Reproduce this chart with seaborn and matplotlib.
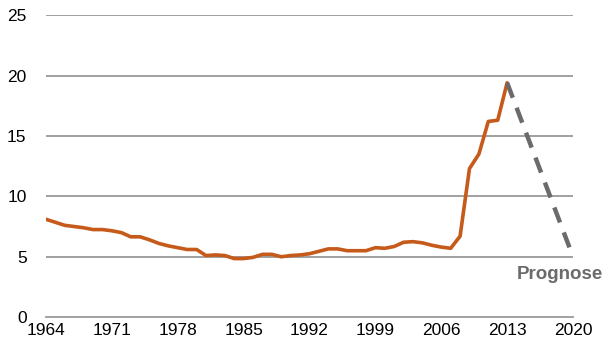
import matplotlib
matplotlib.use("Agg")
import matplotlib.pyplot as plt
import seaborn as sns
import pandas as pd

# values
years = list(range(1964, 2014))
values = [8.1, 7.85, 7.6, 7.5, 7.4, 7.25, 7.25, 7.15, 7.0, 6.65,
          6.65, 6.4, 6.1, 5.9, 5.75, 5.6, 5.6, 5.1, 5.15, 5.1,
          4.85, 4.85, 4.95, 5.2, 5.2, 5.0, 5.1, 5.15, 5.25, 5.45,
          5.65, 5.65, 5.5, 5.5, 5.5, 5.75, 5.7, 5.85, 6.2, 6.25,
          6.15, 5.95, 5.8, 5.7, 6.7, 12.3, 13.5, 16.2, 16.3, 19.4]
forecast_years = [2013, 2020]
forecast_values = [19.4, 5.0]
xticks = [1964, 1971, 1978, 1985, 1992, 1999, 2006, 2013, 2020]
yticks = [0, 5, 10, 15, 20, 25]

df = pd.DataFrame({"year": years, "value": values})
fc = pd.DataFrame({"year": forecast_years, "value": forecast_values})

sns.set_style("white")
plt.rcParams["font.family"] = ["Liberation Sans", "DejaVu Sans"]

fig = plt.figure(figsize=(6.16, 3.6), dpi=100)
ax = fig.add_axes([0.0747, 0.119, 0.8555, 0.839])

for y in yticks[1:]:
    ax.axhline(y, color="#999999", lw=1.3, zorder=0)

sns.lineplot(data=df, x="year", y="value", color="#C55A1A", lw=2.6, ax=ax)
sns.lineplot(data=fc, x="year", y="value", color="#6b6b6b", lw=3.2,
             dashes=[(3.6, 2.4)], style=[0, 0], legend=False, ax=ax)

ax.text(2014.0, 3.55, "Prognose", color="#6b6b6b", fontsize=13.5,
        fontweight="bold", ha="left", va="center")

ax.set_xlim(1964, 2020)
ax.set_ylim(0, 25)
ax.set_xticks(xticks)
ax.set_yticks(yticks)
ax.set_xlabel("")
ax.set_ylabel("")
for s in ["top", "right", "left"]:
    ax.spines[s].set_visible(False)
ax.spines["bottom"].set_color("#999999")
ax.spines["bottom"].set_linewidth(1.3)
ax.tick_params(axis="x", direction="inout", length=7, width=1.3,
               color="#999999", labelsize=12.5, pad=1)
ax.tick_params(axis="y", length=0, labelsize=12.5, pad=14)
for lbl in ax.get_xticklabels() + ax.get_yticklabels():
    lbl.set_color("black")

fig.savefig("out.png", dpi=100)
